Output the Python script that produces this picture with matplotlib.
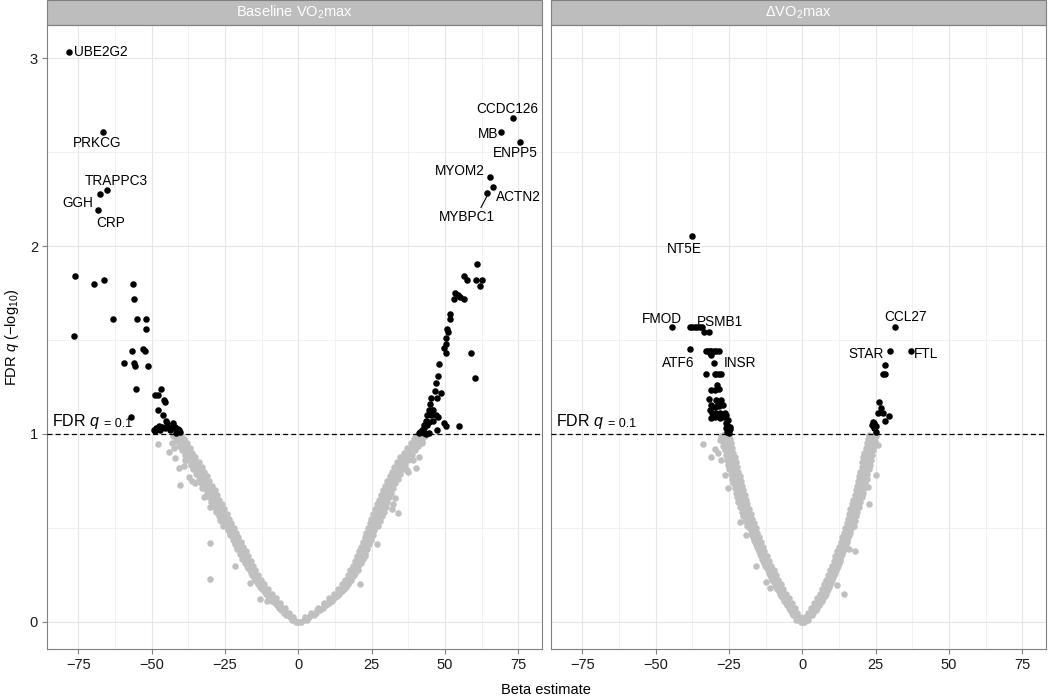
import matplotlib
matplotlib.use("Agg")
import matplotlib.pyplot as plt
from matplotlib.patches import Rectangle

plt.rcParams['font.family'] = ['Liberation Sans', 'DejaVu Sans']
plt.rcParams['mathtext.fontset'] = 'custom'
plt.rcParams['mathtext.rm'] = 'Liberation Sans'
plt.rcParams['mathtext.it'] = 'Liberation Sans:italic'
plt.rcParams['mathtext.bf'] = 'Liberation Sans:bold'

# ---- данные ----
panel_titles = ["Baseline VO$_2$max", "ΔVO$_2$max"]

# уровни -log10(q) для плотной серой полосы
band_q_a = [0.000, 0.025, 0.050, 0.075, 0.100, 0.125, 0.150, 0.175, 0.200, 0.225,
            0.250, 0.275, 0.300, 0.325, 0.350, 0.375, 0.400, 0.425, 0.450, 0.475,
            0.500, 0.525, 0.550, 0.575, 0.600, 0.625, 0.650, 0.675, 0.700, 0.725,
            0.750, 0.775, 0.800, 0.825, 0.850, 0.875, 0.900, 0.925, 0.950, 0.975, 0.995]
band_q_b = [0.0125, 0.0375, 0.0625, 0.0875, 0.1125, 0.1375, 0.1625, 0.1875, 0.2125, 0.2375,
            0.2625, 0.2875, 0.3125, 0.3375, 0.3625, 0.3875, 0.4125, 0.4375, 0.4625, 0.4875,
            0.5125, 0.5375, 0.5625, 0.5875, 0.6125, 0.6375, 0.6625, 0.6875, 0.7125, 0.7375,
            0.7625, 0.7875, 0.8125, 0.8375, 0.8625, 0.8875, 0.9125, 0.9375, 0.9625, 0.9875]

# Baseline: полоса, четыре ряда на каждой ветви (от внутреннего края к внешнему)
base_neg_inner = [-0.2, -1.7, -3.2, -4.7, -6.2, -7.6, -9.0, -10.4, -11.6, -12.7,
                  -13.7, -14.6, -15.5, -16.3, -17.1, -17.9, -18.8, -19.6, -20.4, -21.2,
                  -22.0, -22.8, -23.6, -24.4, -25.3, -26.1, -26.9, -27.7, -28.5, -29.4,
                  -30.3, -31.2, -32.1, -33.0, -34.0, -35.1, -36.1, -37.1, -38.1, -39.1, -40.0]
base_neg_mid = [-1.5, -3.3, -4.9, -6.4, -7.9, -9.3, -10.7, -12.0, -13.2, -14.2,
                -15.2, -16.1, -16.9, -17.7, -18.5, -19.4, -20.2, -21.0, -21.8, -22.6,
                -23.4, -24.2, -25.0, -25.9, -26.7, -27.5, -28.3, -29.1, -30.0, -30.9,
                -31.8, -32.7, -33.6, -34.5, -35.6, -36.6, -37.6, -38.6, -39.6, -40.6]
base_neg_outer = [-0.9, -2.9, -4.8, -6.5, -8.1, -9.6, -11.0, -12.4, -13.6, -14.7,
                  -15.7, -16.6, -17.5, -18.3, -19.1, -19.9, -20.8, -21.6, -22.4, -23.2,
                  -24.0, -24.8, -25.6, -26.4, -27.3, -28.1, -28.9, -29.7, -30.5, -31.4,
                  -32.3, -33.2, -34.1, -35.0, -36.0, -37.1, -38.1, -39.1, -40.1, -41.1, -42.0]
base_neg_edge = [-2.0, -4.2, -5.9, -7.4, -8.9, -10.3, -11.7, -13.0, -14.2, -15.2,
                 -16.2, -17.1, -18.3, -19.1, -19.9, -20.8, -21.6, -22.4, -23.2, -24.0,
                 -25.6, -26.4, -27.2, -28.1, -28.9, -29.7, -30.5, -31.3, -32.2, -33.1,
                 -34.0, -34.9, -35.8, -36.7, -37.8, -38.8, -39.8, -40.8, -41.8, -42.6]
base_pos_inner = [0.2, 2.3, 4.3, 6.6, 8.6, 10.3, 12.0, 13.5, 14.8, 15.9,
                  16.9, 17.7, 18.5, 19.2, 19.9, 20.6, 21.3, 22.0, 22.6, 23.2,
                  23.8, 24.3, 24.9, 25.5, 26.2, 26.9, 27.5, 28.1, 28.8, 29.5,
                  30.3, 31.1, 31.9, 32.8, 33.8, 34.8, 35.9, 37.1, 38.3, 39.5, 40.6]
base_pos_mid = [1.8, 4.2, 6.4, 8.6, 10.5, 12.2, 13.8, 15.2, 16.4, 17.4,
                18.3, 19.1, 19.9, 20.6, 21.3, 22.0, 22.7, 23.3, 23.9, 24.5,
                25.1, 25.6, 26.2, 26.9, 27.6, 28.2, 28.8, 29.5, 30.2, 30.9,
                31.7, 32.5, 33.4, 34.3, 35.3, 36.4, 37.5, 38.7, 39.9, 41.1]
base_pos_outer = [0.9, 3.5, 5.9, 8.4, 10.5, 12.3, 14.0, 15.5, 16.8, 17.9,
                  18.9, 19.7, 20.5, 21.2, 21.9, 22.6, 23.3, 24.0, 24.6, 25.2,
                  25.8, 26.3, 26.9, 27.5, 28.2, 28.9, 29.5, 30.1, 30.8, 31.5,
                  32.3, 33.1, 33.9, 34.8, 35.8, 36.8, 37.9, 39.1, 40.3, 41.5, 42.6]
base_pos_edge = [2.8, 5.2, 7.4, 9.6, 11.5, 13.2, 14.8, 16.2, 17.4, 18.4,
                 19.3, 20.1, 21.3, 22.0, 22.7, 23.4, 24.1, 24.7, 25.3, 25.9,
                 27.3, 27.8, 28.4, 29.1, 29.8, 30.4, 31.0, 31.7, 32.4, 33.1,
                 33.9, 34.7, 35.6, 36.5, 37.5, 38.6, 39.7, 40.9, 42.1, 43.3]
base_scatter_x = [-47.8, -44.2, -42.5, -41.9, -40.8, -39.1, -40.5, -37.4, -35.1, -32.8,
                  -32.3, -30.0, -30.2, -30.0, -21.5, -16.4, -13.2, -10.7, -27.2, -26.6,
                  -43.0, -38.5, -36.2,
                  26.9, 21.2, 34.1, 32.4, 31.8, 37.5, 40.3, 39.2, 33.0, 20.5,
                  22.7, 27.3, 42.2, 41.0, 39.9, 37.0]
base_scatter_q = [0.945, 0.906, 0.924, 0.87, 0.82, 0.83, 0.73, 0.77, 0.74, 0.71,
                  0.667, 0.613, 0.42, 0.229, 0.30, 0.206, 0.122, 0.11, 0.578, 0.545,
                  0.95, 0.86, 0.75,
                  0.415, 0.20, 0.578, 0.63, 0.60, 0.80, 0.82, 0.86, 0.66, 0.277,
                  0.35, 0.54, 0.95, 0.88, 0.985, 0.81]

# Baseline: значимые точки (q < 0.1)
base_sig_x = [-78.3, -66.6, -65.3, -67.6, -68.2, 73.2, 69.0, 75.5, 65.5, 66.5, 64.5,
              -76.0, -76.4, -69.8, -66.3, -63.1, -56.5, -56.0, -55.0, -52.0, -52.0,
              -56.8, -53.0, -52.4, -59.3, -56.1, -55.7, -51.2, -55.5, -57.0, -46.7,
              -49.0, -47.7, -45.8, -45.4, -48.0, -46.3, -45.1, -42.9, -44.8,
              -49.3, -48.5, -47.6, -46.5, -45.4, -44.3, -43.2, -42.1, -41.0, -40.2,
              -40.8, -48.8, -47.2, -43.7, -41.6,
              61.1, 56.6, 57.5, 60.7, 62.8, 62.1, 53.5, 54.3, 55.0, 53.1,
              56.5, 51.7, 51.7, 50.7, 50.9, 50.2, 50.4, 49.8, 50.2, 59.0,
              60.3, 48.1, 47.8, 46.9, 46.7, 48.8, 47.3, 45.3, 45.0, 44.4,
              45.6, 46.1, 44.0, 45.3, 46.9, 47.5, 43.4, 44.6, 46.1, 42.8,
              43.8, 49.8, 50.3, 54.9, 47.4, 41.6, 42.2, 42.9, 43.6, 44.4, 43.0, 41.0]
base_sig_q = [3.03, 2.605, 2.30, 2.275, 2.19, 2.68, 2.605, 2.555, 2.365, 2.315, 2.28,
              1.84, 1.52, 1.80, 1.82, 1.61, 1.80, 1.72, 1.61, 1.61, 1.56,
              1.44, 1.45, 1.44, 1.38, 1.38, 1.36, 1.36, 1.24, 1.09, 1.24,
              1.21, 1.21, 1.18, 1.17, 1.13, 1.10, 1.07, 1.06, 1.06,
              1.02, 1.03, 1.04, 1.035, 1.03, 1.035, 1.03, 1.035, 1.025, 1.01,
              1.02, 1.015, 1.02, 1.02, 1.005,
              1.906, 1.84, 1.82, 1.82, 1.82, 1.79, 1.75, 1.74, 1.73, 1.72,
              1.72, 1.64, 1.61, 1.56, 1.54, 1.51, 1.48, 1.46, 1.43, 1.43,
              1.30, 1.37, 1.31, 1.27, 1.23, 1.22, 1.19, 1.19, 1.16, 1.13,
              1.13, 1.13, 1.10, 1.10, 1.10, 1.09, 1.07, 1.065, 1.07, 1.05,
              1.05, 1.06, 1.04, 1.04, 1.02, 1.01, 1.02, 1.005, 1.0, 1.005, 1.03, 1.005]

# ΔVO2max: полоса
delta_neg_inner = [-0.1, -0.9, -1.7, -2.6, -3.6, -4.6, -5.6, -6.5, -7.4, -8.2,
                   -9.0, -9.8, -10.6, -11.4, -12.2, -12.9, -13.5, -14.1, -14.7, -15.3,
                   -15.8, -16.4, -17.0, -17.6, -18.3, -18.8, -19.2, -19.7, -20.1, -20.5,
                   -21.0, -21.4, -21.9, -22.3, -22.7, -23.1, -23.5, -23.9, -24.3, -24.6, -24.9]
delta_neg_mid = [-1.1, -2.2, -3.1, -4.1, -5.1, -6.1, -7.0, -7.9, -8.8, -9.6,
                 -10.4, -11.2, -12.0, -12.8, -13.5, -14.2, -14.8, -15.4, -16.0, -16.5,
                 -17.1, -17.7, -18.3, -18.9, -19.5, -20.0, -20.4, -20.9, -21.3, -21.7,
                 -22.2, -22.6, -23.1, -23.5, -23.9, -24.3, -24.7, -25.1, -25.4, -25.8]
delta_neg_outer = [-0.6, -2.3, -3.5, -4.6, -5.6, -6.6, -7.6, -8.5, -9.4, -10.2,
                   -11.0, -11.8, -12.6, -13.4, -14.2, -14.9, -15.5, -16.1, -16.7, -17.3,
                   -17.8, -18.4, -19.0, -19.6, -20.3, -20.8, -21.2, -21.7, -22.1, -22.5,
                   -23.0, -23.4, -23.9, -24.3, -24.7, -25.1, -25.5, -25.9, -26.3, -26.6, -26.9]
delta_neg_edge = [-2.1, -3.2, -4.1, -5.1, -6.1, -7.1, -8.0, -8.9, -9.8, -10.6,
                  -11.4, -12.2, -13.0, -13.8, -14.5, -15.2, -15.8, -16.4, -17.0, -17.5,
                  -18.9, -19.5, -20.1, -20.7, -21.3, -21.8, -22.2, -22.7, -23.1, -23.5,
                  -24.0, -24.4, -24.9, -25.3, -25.7, -26.1, -26.5, -26.9, -27.2, -27.6]
delta_pos_inner = [0.1, 0.9, 1.9, 3.0, 4.1, 5.1, 6.0, 6.8, 7.5, 8.2,
                   8.9, 9.5, 10.1, 10.7, 11.3, 11.9, 12.5, 13.1, 13.6, 14.1,
                   14.6, 15.1, 15.6, 16.0, 16.4, 16.9, 17.4, 17.9, 18.4, 18.7,
                   19.1, 19.4, 19.8, 20.2, 20.5, 20.8, 21.2, 21.6, 21.9, 22.3, 22.6]
delta_pos_mid = [1.1, 2.4, 3.5, 4.6, 5.6, 6.6, 7.4, 8.2, 8.9, 9.6,
                 10.2, 10.8, 11.4, 12.0, 12.6, 13.2, 13.8, 14.4, 14.9, 15.4,
                 15.9, 16.4, 16.8, 17.2, 17.7, 18.2, 18.7, 19.2, 19.6, 19.9,
                 20.3, 20.6, 21.0, 21.4, 21.7, 22.0, 22.4, 22.8, 23.1, 23.5]
delta_pos_outer = [0.6, 2.1, 3.5, 4.9, 6.1, 7.1, 8.0, 8.8, 9.5, 10.2,
                   10.9, 11.5, 12.1, 12.7, 13.3, 13.9, 14.5, 15.1, 15.6, 16.1,
                   16.6, 17.1, 17.6, 18.0, 18.4, 18.9, 19.4, 19.9, 20.4, 20.7,
                   21.1, 21.4, 21.8, 22.2, 22.5, 22.8, 23.2, 23.6, 23.9, 24.3, 24.6]
delta_pos_edge = [2.1, 3.4, 4.5, 5.6, 6.6, 7.6, 8.4, 9.2, 9.9, 10.6,
                  11.2, 11.8, 12.4, 13.0, 13.6, 14.2, 14.8, 15.4, 15.9, 16.4,
                  17.5, 18.0, 18.4, 18.8, 19.3, 19.8, 20.3, 20.8, 21.2, 21.5,
                  21.9, 22.2, 22.6, 23.0, 23.3, 23.6, 24.0, 24.4, 24.7, 25.1]
delta_scatter_x = [-33.9, -31.3, -28.2, -29.9, -28.8, -27.6, -25.4, -21.4, -19.1, -15.7,
                   -12.3, -11.1, -26.5,
                   11.8, 14.2, 15.9, 17.8, 22.9, 25.0, 25.8, 22.4]
delta_scatter_q = [0.945, 0.88, 0.968, 0.92, 0.897, 0.86, 0.71, 0.53, 0.46, 0.30,
                   0.21, 0.18, 0.78,
                   0.197, 0.15, 0.39, 0.38, 0.626, 0.78, 0.94, 0.72]

delta_sig_x = [-37.5, -44.5, -38.4, -37.5, -36.7, -35.9, -35.0, -34.2, -33.6, -31.8,
               -38.4, -33.0, -32.2, -31.6, -31.0, -30.2, -29.3, -28.5, -31.6, -31.0,
               -30.2, -33.0, -29.9, -29.3, -28.4, -27.6, -29.1, -28.4, -29.9, -31.0,
               -31.8, -29.3, -27.6, -28.8, -31.0, -29.9, -28.4, -27.0, -31.6, -30.7,
               -29.6, -28.2, -26.5, -25.9, -31.0, -29.9, -28.2, -26.8, -25.4, -25.9,
               -25.7, -24.8, -26.1, -24.8, -25.7, -25.0,
               31.5, 29.9, 36.9, 28.1, 27.5, 28.3, 26.1, 26.9, 25.8, 27.5,
               29.5, 28.1, 24.1, 24.6, 25.2, 24.6, 25.0, 23.9]
delta_sig_q = [2.055, 1.567, 1.567, 1.567, 1.567, 1.567, 1.567, 1.567, 1.541, 1.541,
               1.45, 1.44, 1.44, 1.44, 1.44, 1.44, 1.44, 1.44, 1.43, 1.42,
               1.38, 1.317, 1.317, 1.317, 1.317, 1.317, 1.26, 1.24, 1.234, 1.234,
               1.184, 1.18, 1.18, 1.167, 1.154, 1.145, 1.15, 1.154, 1.128, 1.113,
               1.113, 1.11, 1.11, 1.10, 1.083, 1.092, 1.083, 1.092, 1.074, 1.06,
               1.05, 1.039, 1.03, 1.025, 1.01, 1.003,
               1.567, 1.44, 1.44, 1.367, 1.317, 1.317, 1.172, 1.137, 1.113, 1.113,
               1.096, 1.069, 1.066, 1.057, 1.043, 1.03, 1.012, 1.05]

base_genes = ["UBE2G2", "PRKCG", "TRAPPC3", "GGH", "CRP",
              "CCDC126", "MB", "ENPP5", "MYOM2", "ACTN2", "MYBPC1"]
delta_genes = ["NT5E", "FMOD", "PSMB1", "ATF6", "INSR", "CCL27", "STAR", "FTL"]
fdr_cut = 1.0  # -log10(0.1)

# ---- оформление ----
GRAY = '#c0c0c0'
FRAME = '#808080'
PT = 22  # размер точки

fig = plt.figure(figsize=(10.5, 6.97), dpi=100)
axL = fig.add_axes([47 / 1050, 48 / 697, 495 / 1050, 624 / 697])
axR = fig.add_axes([551 / 1050, 48 / 697, 495 / 1050, 624 / 697])

panels = [
    (axL, (base_neg_inner, base_neg_mid, base_neg_outer, base_neg_edge),
     (base_pos_inner, base_pos_mid, base_pos_outer, base_pos_edge),
     base_scatter_x, base_scatter_q, base_sig_x, base_sig_q),
    (axR, (delta_neg_inner, delta_neg_mid, delta_neg_outer, delta_neg_edge),
     (delta_pos_inner, delta_pos_mid, delta_pos_outer, delta_pos_edge),
     delta_scatter_x, delta_scatter_q, delta_sig_x, delta_sig_q),
]

for i, (ax, neg, pos, sx, sq, gx, gq) in enumerate(panels):
    kw = dict(s=PT, color=GRAY, linewidths=0, zorder=2)
    for rows in (neg, pos):
        ax.scatter(rows[0], band_q_a, **kw)
        ax.scatter(rows[1], band_q_b, **kw)
        ax.scatter(rows[2], band_q_a, **kw)
        ax.scatter(rows[3], band_q_b, **kw)
    ax.scatter(sx, sq, **kw)
    ax.axhline(fdr_cut, color='black', lw=0.9, ls=(0, (4, 2.5)), zorder=3)
    ax.scatter(gx, gq, s=PT, color='black', linewidths=0, zorder=4)

    ax.set_xlim(-85.7, 83.1)
    ax.set_ylim(-0.144, 3.176)
    ax.set_xticks([-75, -50, -25, 0, 25, 50, 75])
    ax.set_xticks([-62.5, -37.5, -12.5, 12.5, 37.5, 62.5], minor=True)
    ax.set_yticks([0, 1, 2, 3])
    ax.set_yticks([0.5, 1.5, 2.5], minor=True)
    ax.grid(True, which='major', color='#e6e6e6', lw=0.8)
    ax.grid(True, which='minor', color='#efefef', lw=0.6)
    ax.set_axisbelow(True)
    ax.tick_params(which='major', length=3.5, width=0.8, color=FRAME,
                   labelsize=10.5, labelcolor='#1a1a1a', pad=3)
    ax.tick_params(which='minor', length=0)
    for sp in ax.spines.values():
        sp.set_color(FRAME)
        sp.set_linewidth(0.8)

    # полоска с заголовком панели
    h = 25 / 624
    ax.add_patch(Rectangle((0, 1), 1, h, transform=ax.transAxes, clip_on=False,
                           facecolor='#bdbdbd', edgecolor=FRAME, lw=0.8))
    ax.text(0.5, 1 + h / 2, panel_titles[i], transform=ax.transAxes,
            ha='center', va='center', color='white', fontsize=10.5)

    # подпись порога FDR
    t1 = ax.text(-84.0, 1.015, "FDR $q$", fontsize=11.5, ha='left', va='bottom')
    ax.annotate("= 0.1", xy=(1, 0), xycoords=t1, xytext=(2.5, 0.8),
                textcoords='offset points', fontsize=9, ha='left', va='bottom')

axR.tick_params(axis='y', which='both', length=0, labelleft=False)

# подписи генов
GFS = 9.8
base_pos = [(-76.4, 3.03, 'left'), (-68.5, 2.547, 'center'), (-61.9, 2.347, 'center'),
            (-75.3, 2.23, 'center'), (-64.1, 2.12, 'center'), (71.4, 2.73, 'center'),
            (64.6, 2.597, 'center'), (73.9, 2.497, 'center'), (55.2, 2.397, 'center'),
            (75.0, 2.26, 'center'), (57.6, 2.153, 'center')]
for g, (tx, ty, ha) in zip(base_genes, base_pos):
    axL.text(tx, ty, g, fontsize=GFS, ha=ha, va='center', zorder=5)
axL.plot([64.2, 62.3], [2.262, 2.205], color='black', lw=0.8, zorder=4)

delta_pos = [(-40.2, 1.982), (-47.9, 1.612), (-28.2, 1.594), (-42.2, 1.38),
             (-21.4, 1.376), (35.1, 1.624), (21.6, 1.424), (42.3, 1.424)]
for g, (tx, ty) in zip(delta_genes, delta_pos):
    axR.text(tx, ty, g, zorder=5, fontsize=GFS, ha='center', va='center')

fig.text(546 / 1050, 1 - 690 / 697, "Beta estimate", ha='center', va='center',
         fontsize=10.5)
fig.text(12 / 1050, 1 - 337 / 697, "FDR $q$ (\u2212log$_{10}$)", rotation=90,
         ha='center', va='center', fontsize=10.5)

fig.savefig("out.png", dpi=100)
